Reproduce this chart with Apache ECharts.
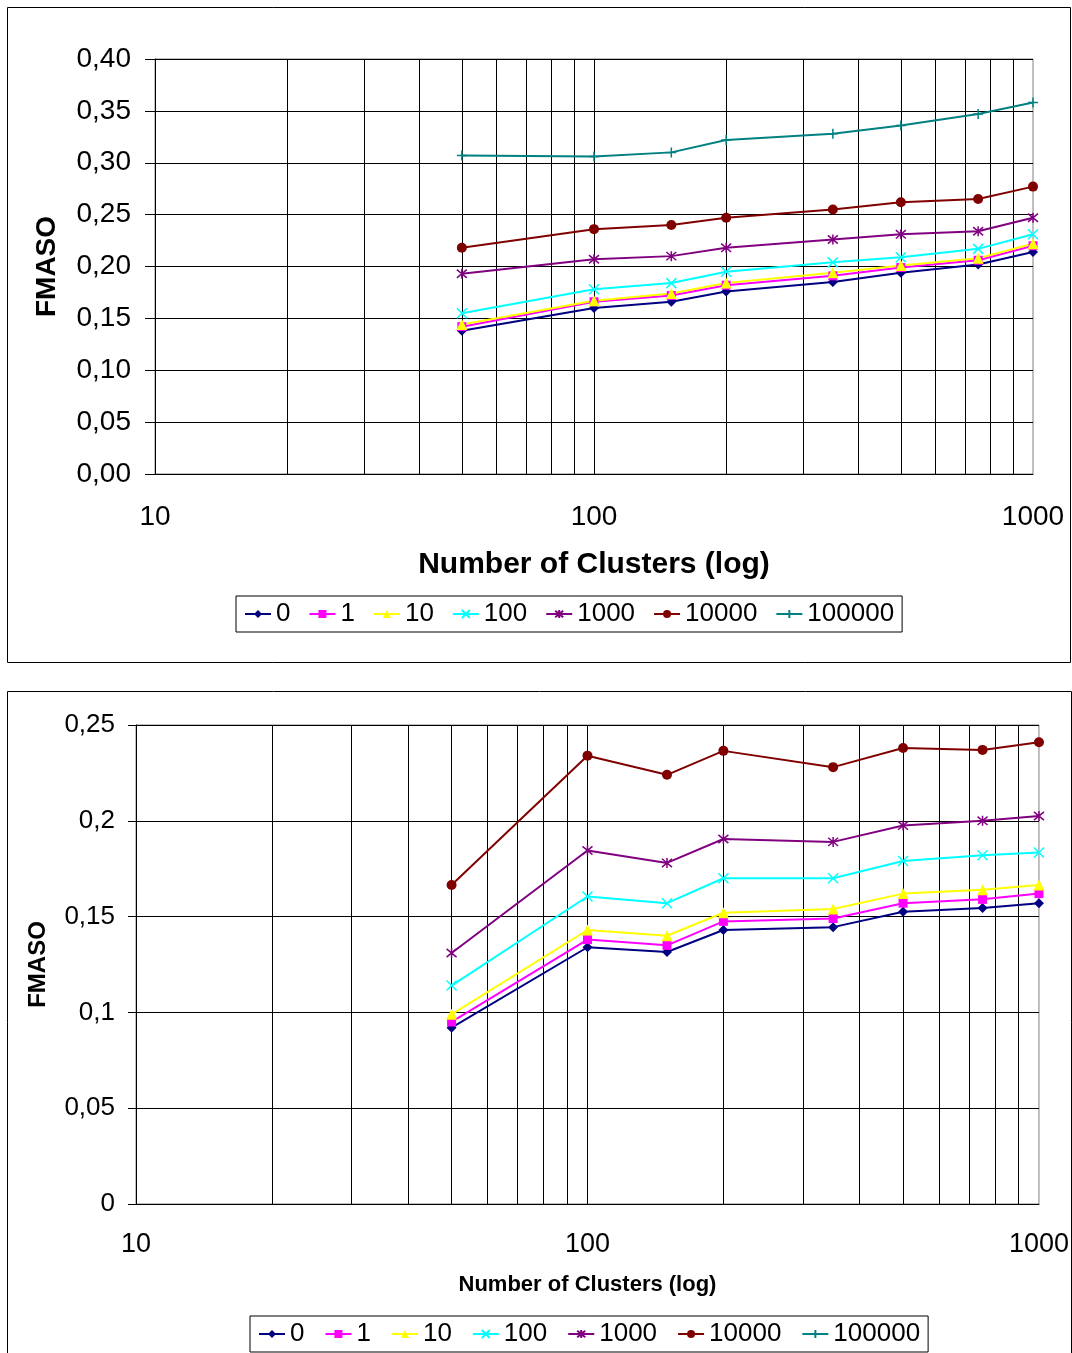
<!DOCTYPE html>
<html><head><meta charset="utf-8">
<script src="https://cdn.jsdelivr.net/npm/echarts@6/dist/echarts.min.js"></script>
<style>html,body{margin:0;padding:0;background:#fff}#c{width:1072px;height:1353px}</style>
</head><body><div id="c"></div>
<script>
var clusters = [50, 100, 150, 200, 350, 500, 750, 1000];
var seriesNames = ['0', '1', '10', '100', '1000', '10000', '100000'];
var minorTicks = [20, 30, 40, 50, 60, 70, 80, 90, 100, 200, 300, 400, 500, 600, 700, 800, 900];

var top0      = [0.138, 0.160, 0.166, 0.176, 0.185, 0.194, 0.202, 0.214];
var top1      = [0.142, 0.166, 0.172, 0.182, 0.191, 0.199, 0.206, 0.220];
var top10     = [0.144, 0.167, 0.174, 0.184, 0.194, 0.201, 0.208, 0.222];
var top100    = [0.155, 0.178, 0.184, 0.195, 0.204, 0.209, 0.217, 0.231];
var top1000   = [0.193, 0.207, 0.210, 0.218, 0.226, 0.231, 0.234, 0.247];
var top10000  = [0.218, 0.236, 0.240, 0.247, 0.255, 0.262, 0.265, 0.277];
var top100000 = [0.307, 0.306, 0.310, 0.322, 0.328, 0.336, 0.347, 0.358];

var bot0      = [0.092, 0.134, 0.1315, 0.143, 0.1445, 0.1525, 0.1545, 0.157];
var bot1      = [0.095, 0.138, 0.135, 0.1475, 0.149, 0.157, 0.159, 0.162];
var bot10     = [0.099, 0.143, 0.140, 0.152, 0.154, 0.162, 0.164, 0.1665];
var bot100    = [0.114, 0.1605, 0.157, 0.170, 0.170, 0.179, 0.182, 0.1835];
var bot1000   = [0.131, 0.1845, 0.178, 0.1905, 0.189, 0.1975, 0.200, 0.2025];
var bot10000  = [0.1665, 0.234, 0.224, 0.2365, 0.228, 0.238, 0.237, 0.241];
var bot100000 = [];

var topData = [top0, top1, top10, top100, top1000, top10000, top100000];
var botData = [bot0, bot1, bot10, bot100, bot1000, bot10000, bot100000];

var colors = ['#000080', '#FF00FF', '#FFFF00', '#00FFFF', '#800080', '#800000', '#008080'];
var symbols = ['diamond', 'rect', 'triangle',
  'path://M0,0L10,10M10,0L0,10',
  'path://M0,0L10,10M10,0L0,10M5,-1L5,11',
  'circle',
  'path://M5,0L5,10M0,5L10,5'];
var symbolSizes = [10, 9, 11, 10, 10, 10, 10];
var stroked = [false, false, false, true, true, false, true];

function zip(vals) { return clusters.slice(0, vals.length).map(function (c, i) { return [c, vals[i]]; }); }

var FONT = 'Liberation Sans, Arial, sans-serif';
var series = [];
function addSeries(dataSets, gi) {
  dataSets.forEach(function (vals, i) {
    series.push({
      name: seriesNames[i], type: 'line', xAxisIndex: gi, yAxisIndex: gi, z: 5,
      data: zip(vals), symbol: symbols[i], symbolSize: symbolSizes[i], showSymbol: true,
      lineStyle: { color: colors[i], width: 2 },
      itemStyle: { color: colors[i], borderColor: colors[i], borderWidth: stroked[i] ? 1.5 : 0 },
      animation: false
    });
  });
  series.push({
    type: 'line', xAxisIndex: gi, yAxisIndex: gi, data: [], z: 1, silent: true,
    markLine: { silent: true, symbol: 'none', animation: false, label: { show: false },
      lineStyle: { color: '#000', width: 1, type: 'solid' },
      data: minorTicks.map(function (v) { return { xAxis: v }; }) }
  });
}
addSeries(topData, 0);
addSeries(botData, 1);

function fmtTop(v) { return v.toFixed(2).replace('.', ','); }
function fmtBot(v) { return String(Math.round(v * 100) / 100).replace('.', ','); }
function fmtX(v) { return String(Math.round(v)); }

var option = {
  animation: false,
  textStyle: { fontFamily: FONT },
  graphic: [
    { type: 'rect', shape: { x: 7.5, y: 7.5, width: 1063, height: 655 }, style: { fill: 'none', stroke: '#000', lineWidth: 1 }, z: -10 },
    { type: 'rect', shape: { x: 7.5, y: 691.5, width: 1064, height: 670 }, style: { fill: 'none', stroke: '#000', lineWidth: 1 }, z: -10 }
  ],
  grid: [
    { left: 155, top: 59, width: 878, height: 415, show: true, borderColor: '#808080', borderWidth: 1, backgroundColor: 'transparent' },
    { left: 136, top: 725, width: 904, height: 479, show: true, borderColor: '#808080', borderWidth: 1, backgroundColor: 'transparent' }
  ],
  xAxis: [
    { gridIndex: 0, type: 'log', logBase: 10, min: 10, max: 1000,
      name: 'Number of Clusters (log)', nameLocation: 'middle', nameGap: 76,
      nameTextStyle: { fontSize: 30, fontWeight: 'bold', color: '#000', fontFamily: FONT },
      axisLine: { lineStyle: { color: '#000', width: 1 } }, axisTick: { show: false },
      axisLabel: { fontSize: 28, color: '#000', margin: 29, formatter: fmtX, fontFamily: FONT }, splitLine: { show: false } },
    { gridIndex: 1, type: 'log', logBase: 10, min: 10, max: 1000,
      name: 'Number of Clusters (log)', nameLocation: 'middle', nameGap: 70,
      nameTextStyle: { fontSize: 22, fontWeight: 'bold', color: '#000', fontFamily: FONT },
      axisLine: { lineStyle: { color: '#000', width: 1 } }, axisTick: { show: false },
      axisLabel: { fontSize: 27, color: '#000', margin: 27, formatter: fmtX, fontFamily: FONT }, splitLine: { show: false } }
  ],
  yAxis: [
    { gridIndex: 0, type: 'value', min: 0, max: 0.4, interval: 0.05,
      name: 'FMASO', nameLocation: 'middle', nameGap: 94, nameRotate: 90,
      nameTextStyle: { fontSize: 28, fontWeight: 'bold', color: '#000', fontFamily: FONT },
      axisLine: { show: true, lineStyle: { color: '#000', width: 1 } },
      axisTick: { show: true, length: 10, lineStyle: { color: '#000' } },
      axisLabel: { fontSize: 28, color: '#000', margin: 24, formatter: fmtTop, fontFamily: FONT },
      splitLine: { show: true, lineStyle: { color: '#000', width: 1 } } },
    { gridIndex: 1, type: 'value', min: 0, max: 0.25, interval: 0.05,
      name: 'FMASO', nameLocation: 'middle', nameGap: 86, nameRotate: 90,
      nameTextStyle: { fontSize: 24, fontWeight: 'bold', color: '#000', fontFamily: FONT },
      axisLine: { show: true, lineStyle: { color: '#000', width: 1 } },
      axisTick: { show: true, length: 8, lineStyle: { color: '#000' } },
      axisLabel: { fontSize: 26, color: '#000', margin: 21, formatter: fmtBot, fontFamily: FONT },
      splitLine: { show: true, lineStyle: { color: '#000', width: 1 } } }
  ],
  legend: [
    { data: seriesNames, left: 236, top: 596, orient: 'horizontal', itemWidth: 26, itemHeight: 10, itemGap: 18,
      borderColor: '#000', borderWidth: 1, padding: [5, 8, 5, 8], backgroundColor: '#fff',
      textStyle: { fontSize: 26, color: '#000', fontFamily: FONT },
      selectedMode: false },
    { data: seriesNames, left: 250, top: 1316, orient: 'horizontal', itemWidth: 26, itemHeight: 10, itemGap: 20,
      borderColor: '#000', borderWidth: 1, padding: [5, 8], backgroundColor: '#fff',
      textStyle: { fontSize: 26, color: '#000', fontFamily: FONT },
      selectedMode: false }
  ],
  series: series
};
var chart = echarts.init(document.getElementById('c'), null, { renderer: 'canvas' });
chart.setOption(option);
</script>
</body></html>
